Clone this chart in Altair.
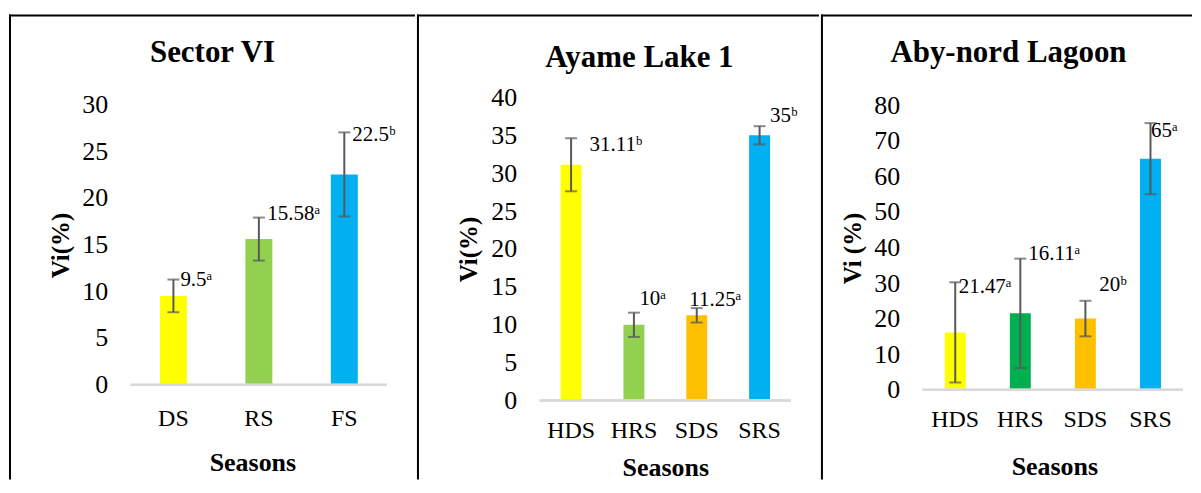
import altair as alt
import pandas as pd

# ---------------- data ----------------
p1_cats = ["DS", "RS", "FS"]
p1_vals = [9.5, 15.58, 22.5]
p1_sd = [1.75, 2.3, 4.5]
p1_text = ["9.5ᵃ", "15.58ᵃ", "22.5ᵇ"]
p1_colors = ["#FFFF00", "#92D050", "#00B0F0"]

p2_cats = ["HDS", "HRS", "SDS", "SRS"]
p2_vals = [31.11, 10.0, 11.25, 35.0]
p2_sd = [3.5, 1.6, 0.95, 1.2]
p2_text = ["31.11ᵇ", "10ᵃ", "11.25ᵃ", "35ᵇ"]
p2_colors = ["#FFFF00", "#92D050", "#FFC000", "#00B0F0"]

p3_cats = ["HDS", "HRS", "SDS", "SRS"]
p3_vals = [16.11, 21.47, 20.0, 65.0]
p3_sd = [14.1, 15.4, 5.0, 10.0]
p3_text = ["21.47ᵃ", "16.11ᵃ", "20ᵇ", "65ᵃ"]
p3_colors = ["#FFFF00", "#00B050", "#FFC000", "#00B0F0"]

# label anchors (value units) and horizontal nudges (px)
p1_label_at = [11.24, 18.3, 26.7]
p1_label_dx = [7, 8.5, 8]
p2_label_at = [33.7, 13.4, 13.3, 37.6]
p2_label_dx = [18.5, 5.5, -7.5, 10.5]
p3_label_at = [29.0, 38.1, 29.4, 72.9]
p3_label_dx = [3.5, 8, 14, 0.5]

SERIF = "Liberation Serif"
LABEL_FONT = "'Liberation Serif', 'DejaVu Serif', serif"
ERR = "#595959"


def panel(title, cats, vals, sd, texts, colors, label_at, label_dx,
          width, domain, tick_values, ytitle, L, R, title_xy, ytitle_xy,
          xtitle_xy, xlab_pad, bar_w):
    df = pd.DataFrame({
        "cat": cats,
        "val": vals,
        "lo": [v - s for v, s in zip(vals, sd)],
        "hi": [v + s for v, s in zip(vals, sd)],
        "txt": texts,
        "lab": label_at,
    })
    H = 304
    xscale = alt.Scale(domain=cats, paddingInner=0, paddingOuter=0)
    xaxis = alt.Axis(title="Seasons", labelAngle=0, domain=False,
                     ticks=False, tickSize=0, grid=False,
                     labelFont=SERIF, labelFontSize=24,
                     labelColor="black", labelPadding=xlab_pad,
                     titleFont=SERIF, titleFontSize=26,
                     titleFontWeight="bold", titleColor="black",
                     titleX=xtitle_xy[0], titleY=xtitle_xy[1],
                     titleAlign="center", titleBaseline="middle")
    yscale = alt.Scale(domain=domain, nice=False, zero=False)
    yaxis = alt.Axis(title=ytitle, values=tick_values, domain=False,
                     ticks=False, tickSize=0, grid=False, labelFont=SERIF,
                     labelFontSize=26, labelColor="black", labelPadding=23,
                     labelOverlap=False, labelBound=False,
                     titleFont=SERIF, titleFontSize=25,
                     titleFontWeight="bold", titleColor="black",
                     titleAngle=270, titleX=ytitle_xy[0],
                     titleY=ytitle_xy[1], titleAlign="center",
                     titleBaseline="middle")

    def X():
        return alt.X("cat:N", sort=cats, scale=xscale, axis=xaxis)

    def Y(field):
        return alt.Y(field, scale=yscale, axis=yaxis)

    base = alt.Chart(df)
    one = alt.Chart(pd.DataFrame({"t": [title]}))

    vborder = one.mark_rule(color="black", strokeWidth=2,
                            strokeCap="square").encode(
        x=alt.value(L + 1), y=alt.value(-82), y2=alt.value(382))
    hborder = one.mark_rule(color="black", strokeWidth=2,
                            strokeCap="square").encode(
        x=alt.value(L + 1), x2=alt.value(R - 1), y=alt.value(-82))
    ttl = one.mark_text(font=SERIF, fontSize=31, fontWeight="bold",
                        color="black", align="center",
                        baseline="middle").encode(
        text="t:N", x=alt.value(title_xy[0]), y=alt.value(title_xy[1]))

    bars = base.mark_bar(width=bar_w).encode(
        x=X(),
        y=Y("val:Q"),
        y2=alt.datum(0),
        color=alt.Color("cat:N", scale=alt.Scale(domain=cats, range=colors),
                        legend=None),
    )
    zero_line = base.mark_rule(color="#D9D9D9", strokeWidth=2).encode(
        y=alt.Y(datum=0, scale=yscale, axis=yaxis))
    err = base.mark_rule(color=ERR, strokeWidth=2).encode(
        x=X(), y=Y("lo:Q"), y2="hi:Q")
    cap_lo = base.mark_tick(color=ERR, size=12, thickness=2,
                            orient="horizontal").encode(x=X(), y=Y("lo:Q"))
    cap_hi = base.mark_tick(color=ERR, size=12, thickness=2,
                            orient="horizontal").encode(x=X(), y=Y("hi:Q"))

    labels = []
    for c, dx in zip(cats, label_dx):
        labels.append(
            base.transform_filter(alt.datum.cat == c).mark_text(
                font=LABEL_FONT, fontSize=21, color="black", align="left",
                baseline="middle", dx=dx).encode(
                x=X(), y=Y("lab:Q"), text="txt:N"))

    return alt.layer(bars, zero_line, err, cap_lo, cap_hi, *labels,
                     vborder, hborder, ttl).properties(width=width, height=H)


c1 = panel("Sector VI", p1_cats, p1_vals, p1_sd, p1_text, p1_colors,
           p1_label_at, p1_label_dx, width=257, domain=[-1.708, 30.746],
           tick_values=[0, 5, 10, 15, 20, 25, 30], ytitle="Vi(%)",
           L=-122, R=285, title_xy=(82, -44), ytitle_xy=(-70, 148),
           xtitle_xy=(122, 62), xlab_pad=6, bar_w=27)
c2 = panel("Ayame Lake 1", p2_cats, p2_vals, p2_sd, p2_text, p2_colors,
           p2_label_at, p2_label_dx, width=252, domain=[0, 40],
           tick_values=[0, 5, 10, 15, 20, 25, 30, 35, 40], ytitle="Vi(%)",
           L=-123, R=280, title_xy=(100, -39), ytitle_xy=(-71, 152),
           xtitle_xy=(126, 67), xlab_pad=18, bar_w=21)
c3 = panel("Aby-nord Lagoon", p3_cats, p3_vals, p3_sd, p3_text, p3_colors,
           p3_label_at, p3_label_dx, width=261, domain=[-3.088, 82.25],
           tick_values=[0, 10, 20, 30, 40, 50, 60, 70, 80], ytitle="Vi (%)",
           L=-102, R=270, title_xy=(86, -44), ytitle_xy=(-70, 151),
           xtitle_xy=(132, 66), xlab_pad=7, bar_w=21)

chart = alt.hconcat(c1, c2, c3, spacing=0).resolve_scale(
    x="independent", y="independent", color="independent"
).properties(
    padding={"left": 0, "top": 5, "right": 0, "bottom": 0},
    background="white",
).configure_view(stroke=None)

chart.save("out.html", embed_options={"renderer": "svg", "actions": False})
